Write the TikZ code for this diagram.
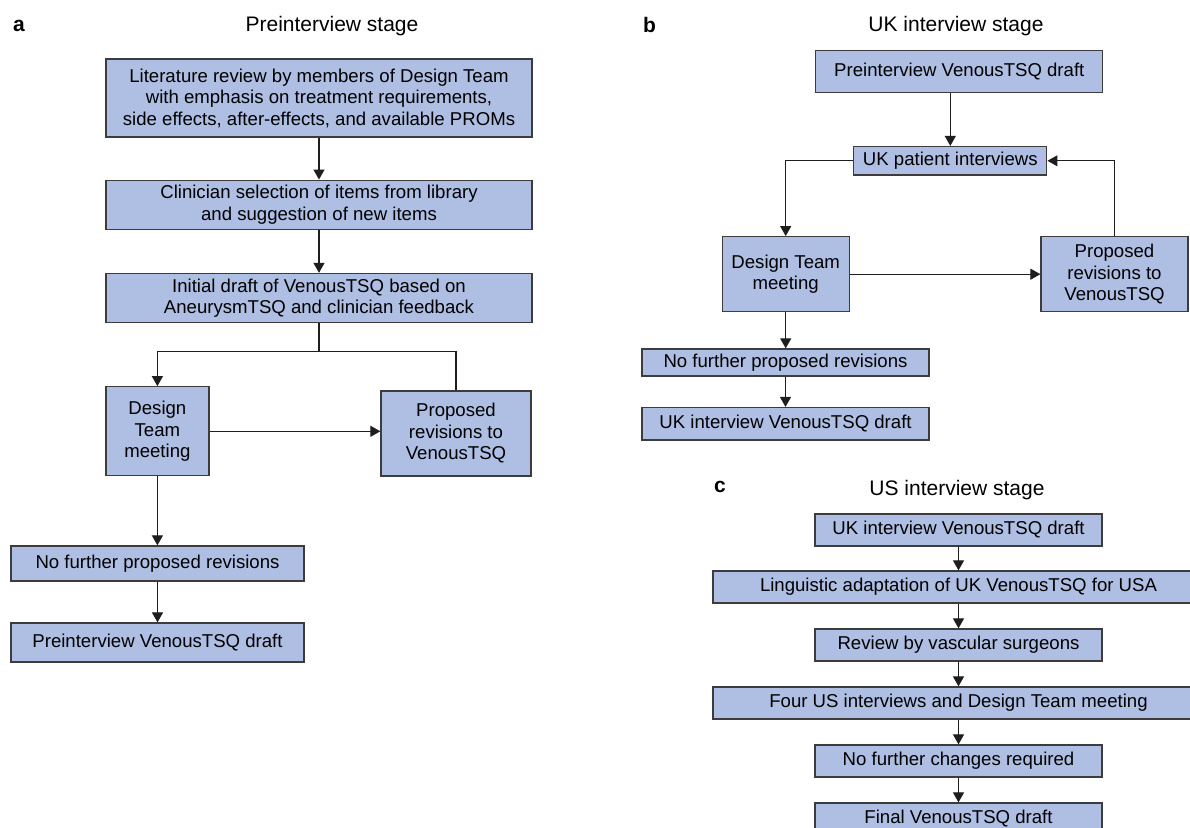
\documentclass[tikz,border=0pt]{standalone}
\usepackage{fontspec}
\setmainfont{Liberation Sans}
\usetikzlibrary{arrows.meta}
\definecolor{boxfill}{HTML}{AEBFE3}
\definecolor{edgegray}{HTML}{3C3C3C}
\definecolor{linegray}{HTML}{1E1E1E}
\begin{document}
\begin{tikzpicture}[x=1pt,y=-1pt,
  box/.style={draw=edgegray, fill=boxfill, line width=1.3pt, inner sep=0pt, align=center, font=\fontsize{18.6}{21.5}\selectfont},
  conn/.style={draw=linegray, line width=1.2pt},
  arr/.style={conn, -{Triangle[width=11pt,length=10pt]}},
  title/.style={anchor=base, font=\fontsize{21}{24}\selectfont, inner sep=0pt},
  plabel/.style={anchor=base, font=\fontsize{21}{24}\selectfont\bfseries, inner sep=0pt}]
\useasboundingbox[fill=white] (0,0) rectangle (1190,827);

% ---------- panel a ----------
\node[plabel] (la) at (19,31) {a};
\node[title] (ta) at (332,31) {Preinterview stage};
\node[box, minimum width=426pt, minimum height=78pt] (A1) at (319,98)
  {Literature review by members of Design Team\\with emphasis on treatment requirements,\\side effects, after-effects, and available PROMs};
\node[box, minimum width=426pt, minimum height=49pt] (A2) at (319,204.7)
  {Clinician selection of items from library\\and suggestion of new items};
\node[box, minimum width=426pt, minimum height=49pt] (A3) at (319,298)
  {Initial draft of VenousTSQ based on\\AneurysmTSQ and clinician feedback};
\node[box, minimum width=103pt, minimum height=89pt] (ADT) at (157.4,431.3)
  {Design\\Team\\meeting};
\node[box, minimum width=150pt, minimum height=85pt] (AP) at (456,433.5)
  {Proposed\\revisions to\\VenousTSQ};
\node[box, minimum width=293pt, minimum height=35pt] (ANF) at (157.5,563.5)
  {No further proposed revisions};
\node[box, minimum width=293pt, minimum height=39pt] (APD) at (157.5,642.5)
  {Preinterview VenousTSQ draft};
\coordinate (jA) at (319,351.7);
\draw[arr] (A1) -- (A2);
\draw[arr] (A2) -- (A3);
\draw[conn] (A3.south) -- (jA);
\draw[arr] (jA) -| (ADT.north);
\draw[conn] (jA) -| (AP.north);
\draw[arr] (ADT.east) -- (ADT.east -| AP.west);
\draw[arr] (ADT.south) -- (ADT.south |- ANF.north);
\draw[arr] (ANF) -- (APD);

% ---------- panel b ----------
\node[plabel] (lb) at (649.5,32) {b};
\node[title] (tb) at (956,31) {UK interview stage};
\node[box, minimum width=287pt, minimum height=42pt] (B1) at (959.3,71.8)
  {Preinterview VenousTSQ draft};
\node[box, minimum width=193pt, minimum height=28.5pt] (B2) at (950.3,160.8)
  {UK patient interviews};
\node[box, minimum width=127pt, minimum height=75pt] (B3) at (785.7,274.2)
  {Design Team\\meeting};
\node[box, minimum width=147pt, minimum height=75pt] (B4) at (1114.5,274.2)
  {Proposed\\revisions to\\VenousTSQ};
\node[box, minimum width=287pt, minimum height=27pt] (B5) at (785.5,362.5)
  {No further proposed revisions};
\node[box, minimum width=287pt, minimum height=32.5pt] (B6) at (785.5,423.8)
  {UK interview VenousTSQ draft};
\draw[arr] (B1.south -| B2.north) -- (B2.north);
\draw[arr] (B2.west) -| (B3.north);
\draw[arr] (B4.north) |- (B2.east);
\draw[arr] (B3.east) -- (B3.east -| B4.west);
\draw[arr] (B3.south) -- (B3.south |- B5.north);
\draw[arr] (B5) -- (B6);

% ---------- panel c ----------
\node[plabel] (lc) at (720,492) {c};
\node[title] (tc) at (957,495) {US interview stage};
\node[box, minimum width=287pt, minimum height=32pt] (C1) at (958.5,530)
  {UK interview VenousTSQ draft};
\node[box, minimum width=491pt, minimum height=32pt] (C2) at (958.5,587)
  {Linguistic adaptation of UK VenousTSQ for USA};
\node[box, minimum width=287pt, minimum height=32pt] (C3) at (958.5,645)
  {Review by vascular surgeons};
\node[box, minimum width=491pt, minimum height=32pt] (C4) at (958.5,703)
  {Four US interviews and Design Team meeting};
\node[box, minimum width=287pt, minimum height=32pt] (C5) at (958.5,761)
  {No further changes required};
\node[box, minimum width=287pt, minimum height=32pt] (C6) at (958.5,819)
  {Final VenousTSQ draft};
\draw[arr] (C1) -- (C2);
\draw[arr] (C2) -- (C3);
\draw[arr] (C3) -- (C4);
\draw[arr] (C4) -- (C5);
\draw[arr] (C5) -- (C6);
\end{tikzpicture}
\end{document}
